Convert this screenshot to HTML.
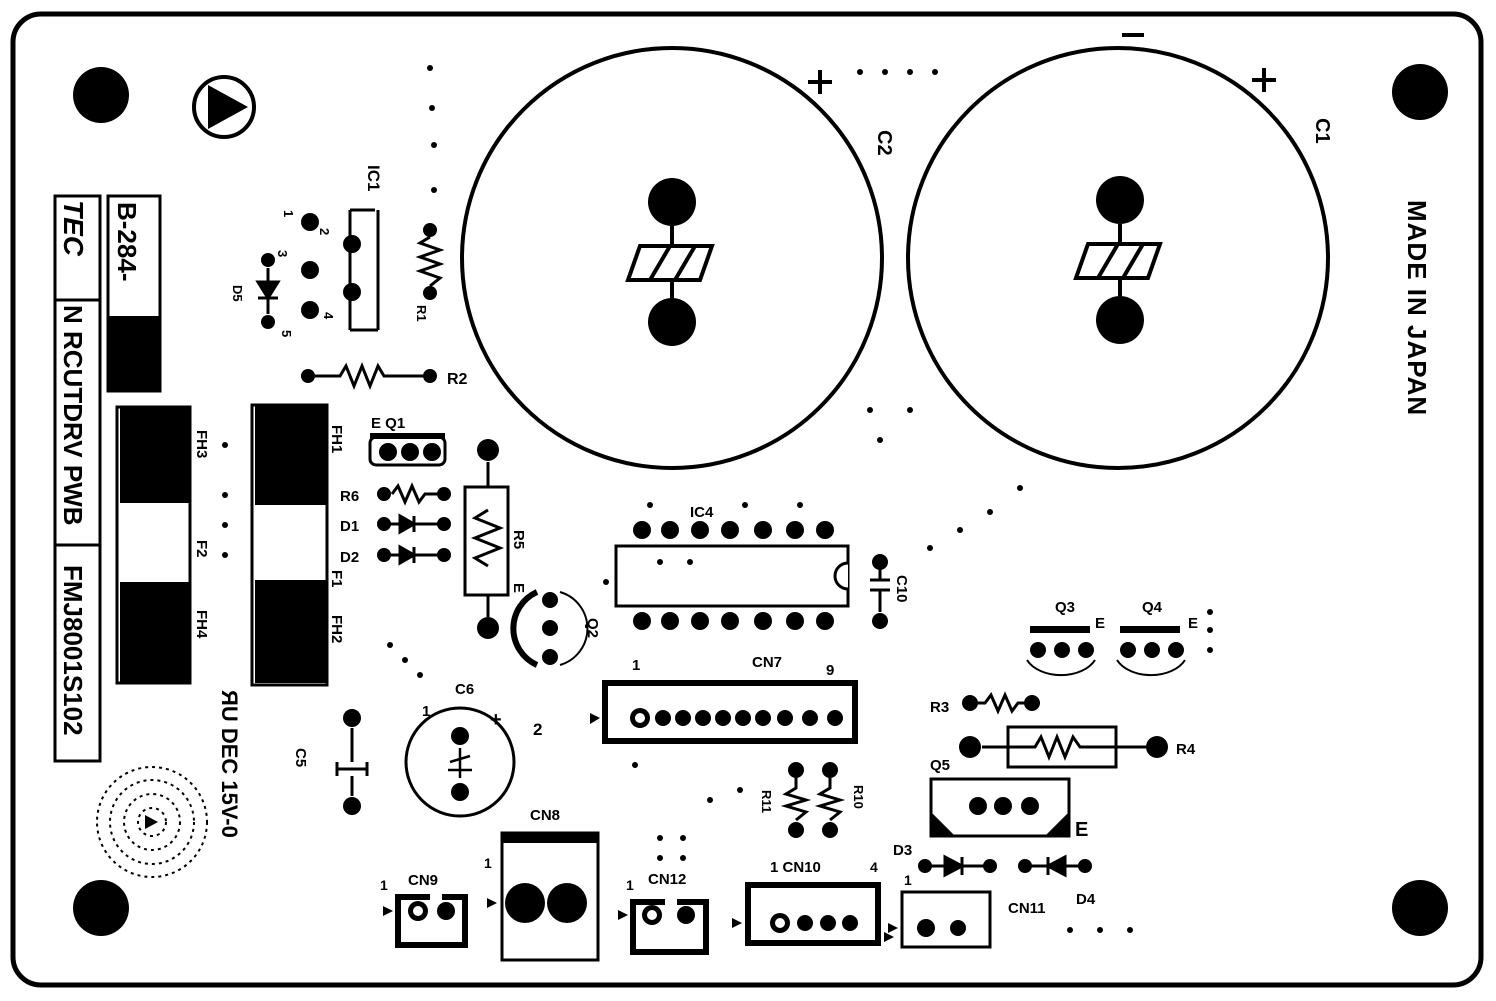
<!DOCTYPE html>
<html><head><meta charset="utf-8"><style>
html,body{margin:0;padding:0;background:#fff}
svg{display:block}
text{font-family:"Liberation Sans",sans-serif;font-weight:bold;fill:#000}
</style></head><body>
<svg width="1496" height="1001" viewBox="0 0 1496 1001" xmlns="http://www.w3.org/2000/svg">
<rect x="13" y="14" width="1468" height="971" rx="28" fill="#fff" stroke="#000" stroke-width="5"/>
<!-- corner holes -->
<g fill="#000">
<circle cx="101" cy="95" r="28"/><circle cx="1420" cy="92" r="28"/>
<circle cx="101" cy="908" r="28"/><circle cx="1420" cy="908" r="28"/>
</g>
<!-- triangle logo -->
<circle cx="224" cy="107" r="30" fill="none" stroke="#000" stroke-width="4"/>
<path d="M208 85 L248 107 L208 129 Z" fill="#000"/>
<!-- big caps -->
<circle cx="672" cy="258" r="210" fill="none" stroke="#000" stroke-width="4"/>
<circle cx="1118" cy="258" r="210" fill="none" stroke="#000" stroke-width="4"/>
<g fill="#000">
<circle cx="672" cy="202" r="24"/><circle cx="672" cy="322" r="24"/>
<circle cx="1120" cy="200" r="24"/><circle cx="1120" cy="320" r="24"/>
</g>
<g stroke="#000" stroke-width="4" fill="none">
<path d="M672 226V246M672 280V298M640 246H712L700 280H628Z M650 280L670 246 M675 280L695 246"/>
<path d="M1120 224V244M1120 278V296M1088 244H1160L1148 278H1076Z M1098 278L1118 244 M1123 278L1143 244"/>
<path d="M808 82H832M820 70V94 M1252 80H1276M1264 68V92 M1122 35H1144"/>
</g>
<text transform="translate(878,130) rotate(90)" font-size="20">C2</text>
<text transform="translate(1316,118) rotate(90)" font-size="20">C1</text>
<text transform="translate(1408,200) rotate(90)" font-size="26" letter-spacing="1">MADE IN JAPAN</text>
<!-- dotted traces -->
<g fill="#000">
<circle cx="430" cy="68" r="3"/><circle cx="432" cy="108" r="3"/><circle cx="434" cy="145" r="3"/><circle cx="434" cy="190" r="3"/>
<circle cx="860" cy="72" r="3"/><circle cx="885" cy="72" r="3"/><circle cx="910" cy="72" r="3"/><circle cx="935" cy="72" r="3"/>
<circle cx="870" cy="410" r="3"/><circle cx="910" cy="410" r="3"/><circle cx="880" cy="440" r="3"/><circle cx="1020" cy="488" r="3"/>
<circle cx="990" cy="512" r="3"/><circle cx="960" cy="530" r="3"/><circle cx="930" cy="548" r="3"/>
<circle cx="1210" cy="612" r="3"/><circle cx="1210" cy="630" r="3"/><circle cx="1210" cy="650" r="3"/>
<circle cx="390" cy="645" r="3"/><circle cx="405" cy="660" r="3"/><circle cx="420" cy="675" r="3"/>
<circle cx="1070" cy="930" r="3"/><circle cx="1100" cy="930" r="3"/><circle cx="1130" cy="930" r="3"/>
<circle cx="710" cy="800" r="3"/><circle cx="740" cy="790" r="3"/><circle cx="635" cy="765" r="3"/>
</g>
<!-- left label block -->
<rect x="55" y="196" width="45" height="565" fill="none" stroke="#000" stroke-width="3"/>
<text transform="translate(64,200) rotate(90)" font-size="28" font-style="italic">TEC</text>
<text transform="translate(64,305) rotate(90)" font-size="26">N RCUTDRV PWB</text>
<text transform="translate(64,565) rotate(90)" font-size="26">FMJ8001S102</text>
<path d="M55 300H100 M55 545H100" stroke="#000" stroke-width="3"/>
<rect x="108" y="196" width="52" height="195" fill="none" stroke="#000" stroke-width="3"/>
<text transform="translate(118,202) rotate(90)" font-size="26">B-284-</text>
<rect x="108" y="316" width="52" height="75" fill="#000"/>
<!-- fuse holders -->
<rect x="117" y="407" width="73" height="276" fill="none" stroke="#000" stroke-width="3"/>
<rect x="120" y="407" width="70" height="96" fill="#000"/><rect x="120" y="582" width="70" height="100" fill="#000"/>
<rect x="252" y="405" width="75" height="280" fill="none" stroke="#000" stroke-width="3"/>
<rect x="255" y="405" width="72" height="100" fill="#000"/><rect x="255" y="580" width="72" height="103" fill="#000"/>
<g font-size="15">
<text transform="translate(197,430) rotate(90)">FH3</text>
<text transform="translate(197,540) rotate(90)">F2</text>
<text transform="translate(197,610) rotate(90)">FH4</text>
<text transform="translate(332,425) rotate(90)">FH1</text>
<text transform="translate(332,570) rotate(90)">F1</text>
<text transform="translate(332,615) rotate(90)">FH2</text>
</g>
<g fill="#000"><circle cx="225" cy="445" r="3"/><circle cx="225" cy="495" r="3"/><circle cx="225" cy="525" r="3"/><circle cx="225" cy="555" r="3"/></g>
<text transform="translate(222,690) rotate(90)" font-size="22">ЯU DEC 15V-0</text>
<!-- dotted circle logo -->
<g fill="none" stroke="#000" stroke-width="2" stroke-dasharray="3 4">
<circle cx="152" cy="822" r="55"/><circle cx="152" cy="822" r="42"/><circle cx="152" cy="822" r="28"/><circle cx="152" cy="822" r="14"/>
</g>
<path d="M145 815L158 822L145 829Z" fill="#000"/>
<!-- IC1 -->
<text transform="translate(368,165) rotate(90)" font-size="17">IC1</text>
<path d="M350 210H375 M350 210V330 M350 330H378 M378 210V330" stroke="#000" stroke-width="3" fill="none"/>
<g fill="#000">
<circle cx="310" cy="222" r="9"/><circle cx="352" cy="244" r="9"/><circle cx="310" cy="270" r="9"/><circle cx="352" cy="292" r="9"/><circle cx="310" cy="310" r="9"/>
<circle cx="268" cy="260" r="7"/><circle cx="268" cy="322" r="7"/>
<circle cx="430" cy="230" r="7"/><circle cx="430" cy="293" r="7"/>
<circle cx="308" cy="376" r="7"/><circle cx="430" cy="376" r="7"/>
</g>
<g font-size="13"><text transform="translate(284,210) rotate(90)">1</text><text transform="translate(320,228) rotate(90)">2</text><text transform="translate(278,250) rotate(90)">3</text><text transform="translate(324,312) rotate(90)">4</text><text transform="translate(282,330) rotate(90)">5</text>
<text transform="translate(233,285) rotate(90)">D5</text><text transform="translate(417,305) rotate(90)">R1</text></g>
<path d="M268 268V314 M258 282H278L268 298Z M258 298H278" stroke="#000" stroke-width="3" fill="#000"/>
<path d="M430 237L420 243L440 250L420 257L440 264L420 271L440 278L430 286" stroke="#000" stroke-width="3" fill="none"/>
<path d="M315 376H340L346 366L354 386L362 366L370 386L378 366L384 376H423" stroke="#000" stroke-width="3" fill="none"/>
<text x="447" y="384" font-size="16">R2</text>
<!-- Q1 R6 D1 D2 R5 -->
<text x="371" y="428" font-size="15">E  Q1</text>
<rect x="370" y="437" width="75" height="28" rx="6" fill="none" stroke="#000" stroke-width="3"/>
<rect x="370" y="433" width="75" height="6" fill="#000"/>
<g fill="#000"><circle cx="388" cy="452" r="9"/><circle cx="410" cy="452" r="9"/><circle cx="432" cy="452" r="9"/>
<circle cx="384" cy="494" r="7"/><circle cx="444" cy="494" r="7"/><circle cx="384" cy="524" r="7"/><circle cx="444" cy="524" r="7"/><circle cx="384" cy="555" r="7"/><circle cx="444" cy="555" r="7"/>
<circle cx="488" cy="450" r="11"/><circle cx="488" cy="628" r="11"/></g>
<g font-size="15"><text x="340" y="501">R6</text><text x="340" y="531">D1</text><text x="340" y="562">D2</text></g>
<path d="M392 494L398 486L405 502L412 486L419 502L425 494H437" stroke="#000" stroke-width="3" fill="none"/>
<path d="M390 524H438M400 516V532L414 524Z M414 516V532 M390 555H438M400 547V563L414 555Z M414 547V563" stroke="#000" stroke-width="3" fill="#000"/>
<rect x="465" y="487" width="43" height="108" fill="none" stroke="#000" stroke-width="3"/>
<path d="M488 462V487 M488 595V617 M488 510L475 518L500 528L475 538L500 548L475 558L488 566" stroke="#000" stroke-width="3" fill="none"/>
<text transform="translate(514,530) rotate(90)" font-size="15">R5</text>
<text transform="translate(514,583) rotate(90)" font-size="15">E</text>
<!-- Q2 -->
<g fill="#000"><circle cx="550" cy="600" r="8"/><circle cx="550" cy="628" r="8"/><circle cx="550" cy="657" r="8"/></g>
<path d="M537 592A40 40 0 0 0 537 665" stroke="#000" stroke-width="6" fill="none"/>
<path d="M560 592A38 38 0 0 1 560 665" stroke="#000" stroke-width="2" fill="none"/>
<text transform="translate(588,618) rotate(90)" font-size="15">Q2</text>
<!-- IC4 -->
<text x="690" y="517" font-size="15">IC4</text>
<rect x="616" y="546" width="232" height="60" fill="none" stroke="#000" stroke-width="3"/>
<path d="M848 563A12 12 0 0 0 848 589" fill="#fff" stroke="#000" stroke-width="3"/>
<g fill="#000">
<circle cx="642" cy="530" r="9"/><circle cx="670" cy="530" r="9"/><circle cx="700" cy="530" r="9"/><circle cx="730" cy="530" r="9"/><circle cx="763" cy="530" r="9"/><circle cx="795" cy="530" r="9"/><circle cx="825" cy="530" r="9"/>
<circle cx="642" cy="621" r="9"/><circle cx="670" cy="621" r="9"/><circle cx="700" cy="621" r="9"/><circle cx="730" cy="621" r="9"/><circle cx="763" cy="621" r="9"/><circle cx="795" cy="621" r="9"/><circle cx="825" cy="621" r="9"/>
<circle cx="880" cy="562" r="8"/><circle cx="880" cy="621" r="8"/>
<circle cx="650" cy="505" r="3"/><circle cx="745" cy="505" r="3"/><circle cx="800" cy="505" r="3"/><circle cx="660" cy="562" r="3"/><circle cx="690" cy="562" r="3"/><circle cx="606" cy="582" r="3"/>
</g>
<path d="M880 570V580 M870 580H890 M870 590H890 M880 590V612" stroke="#000" stroke-width="3"/>
<text transform="translate(897,575) rotate(90)" font-size="15">C10</text>
<!-- CN7 -->
<text x="632" y="670" font-size="15">1</text><text x="752" y="667" font-size="15">CN7</text><text x="826" y="675" font-size="15">9</text>
<rect x="605" y="683" width="250" height="58" fill="none" stroke="#000" stroke-width="6"/>
<path d="M590 713L600 718L590 724Z" fill="#000"/>
<g fill="#000"><circle cx="640" cy="718" r="10"/><circle cx="663" cy="718" r="8"/><circle cx="683" cy="718" r="8"/><circle cx="703" cy="718" r="8"/><circle cx="723" cy="718" r="8"/><circle cx="743" cy="718" r="8"/><circle cx="763" cy="718" r="8"/><circle cx="785" cy="718" r="8"/><circle cx="810" cy="718" r="8"/><circle cx="835" cy="718" r="8"/></g>
<circle cx="640" cy="718" r="5" fill="#fff"/>
<!-- C5 C6 -->
<g fill="#000"><circle cx="352" cy="718" r="9"/><circle cx="352" cy="806" r="9"/><circle cx="460" cy="736" r="9"/><circle cx="460" cy="792" r="9"/></g>
<path d="M352 728V762 M337 762V776 M367 762V776 M352 776V796 M337 769H367" stroke="#000" stroke-width="3" fill="none"/>
<text transform="translate(296,748) rotate(90)" font-size="15">C5</text>
<circle cx="460" cy="762" r="54" fill="none" stroke="#000" stroke-width="3"/>
<path d="M450 762L470 756 M448 770H472 M460 748V778" stroke="#000" stroke-width="2.5"/>
<text x="455" y="694" font-size="15">C6</text><text x="422" y="716" font-size="15">1</text><text x="490" y="726" font-size="20">+</text><text x="533" y="735" font-size="17">2</text>
<!-- R10 R11 -->
<g fill="#000"><circle cx="796" cy="770" r="8"/><circle cx="796" cy="830" r="8"/><circle cx="830" cy="770" r="8"/><circle cx="830" cy="830" r="8"/></g>
<path d="M796 778V788L786 794L806 800L786 806L806 812L796 820 M830 778V788L820 794L840 800L820 806L840 812L830 820" stroke="#000" stroke-width="3" fill="none"/>
<text transform="translate(762,790) rotate(90)" font-size="13">R11</text><text transform="translate(854,785) rotate(90)" font-size="13">R10</text>
<!-- Q3 Q4 -->
<text x="1055" y="612" font-size="15">Q3</text><text x="1095" y="628" font-size="15">E</text>
<text x="1142" y="612" font-size="15">Q4</text><text x="1188" y="628" font-size="15">E</text>
<rect x="1030" y="626" width="60" height="7" fill="#000"/><rect x="1120" y="626" width="60" height="7" fill="#000"/>
<path d="M1027 660A37 25 0 0 0 1095 660 M1117 660A37 25 0 0 0 1185 660" stroke="#000" stroke-width="2" fill="none"/>
<g fill="#000"><circle cx="1038" cy="650" r="8"/><circle cx="1062" cy="650" r="8"/><circle cx="1086" cy="650" r="8"/><circle cx="1128" cy="650" r="8"/><circle cx="1152" cy="650" r="8"/><circle cx="1176" cy="650" r="8"/></g>
<!-- R3 R4 Q5 -->
<text x="930" y="712" font-size="15">R3</text>
<g fill="#000"><circle cx="970" cy="703" r="8"/><circle cx="1032" cy="703" r="8"/><circle cx="970" cy="747" r="11"/><circle cx="1157" cy="747" r="11"/></g>
<path d="M978 703H985L991 695L998 711L1005 695L1012 711L1018 703H1024" stroke="#000" stroke-width="3" fill="none"/>
<rect x="1008" y="727" width="108" height="40" fill="none" stroke="#000" stroke-width="3"/>
<path d="M982 747H1035L1041 737L1049 757L1057 737L1065 757L1073 737L1080 747H1146" stroke="#000" stroke-width="3" fill="none"/>
<text x="1176" y="754" font-size="15">R4</text>
<text x="930" y="770" font-size="15">Q5</text>
<rect x="931" y="779" width="138" height="57" fill="none" stroke="#000" stroke-width="3"/>
<path d="M931 812L955 836H931Z M1069 812L1045 836H1069Z" fill="#000"/>
<g fill="#000"><circle cx="978" cy="806" r="9"/><circle cx="1003" cy="806" r="9"/><circle cx="1030" cy="806" r="9"/></g>
<text x="1075" y="836" font-size="20">E</text>
<!-- D3 D4 -->
<text x="893" y="855" font-size="15">D3</text>
<g fill="#000"><circle cx="925" cy="866" r="7"/><circle cx="990" cy="866" r="7"/><circle cx="1025" cy="866" r="7"/><circle cx="1085" cy="866" r="7"/></g>
<path d="M930 866H985 M945 857V875L962 866Z M962 857V875 M1030 866H1080 M1065 857V875L1048 866Z M1048 857V875" stroke="#000" stroke-width="3" fill="#000"/>
<text x="1008" y="913" font-size="15">CN11</text><text x="1076" y="904" font-size="15">D4</text>
<!-- CN11 -->
<text x="904" y="885" font-size="14">1</text>
<rect x="902" y="892" width="88" height="55" fill="none" stroke="#000" stroke-width="3"/>
<circle cx="926" cy="928" r="9" fill="#000"/><circle cx="958" cy="928" r="8" fill="#000"/>
<path d="M888 923L898 928L888 933Z" fill="#000"/>
<!-- CN10 -->
<text x="770" y="872" font-size="15">1 CN10</text><text x="870" y="872" font-size="14">4</text>
<path d="M748 885H878V943H748Z" fill="none" stroke="#000" stroke-width="6"/>
<path d="M732 918L742 923L732 928Z M884 932L894 937L884 942Z" fill="#000"/>
<g fill="#000"><circle cx="780" cy="923" r="10"/><circle cx="805" cy="923" r="8"/><circle cx="828" cy="923" r="8"/><circle cx="850" cy="923" r="8"/></g>
<circle cx="780" cy="923" r="5" fill="#fff"/>
<!-- CN12 -->
<text x="626" y="890" font-size="14">1</text><text x="648" y="884" font-size="15">CN12</text>
<g fill="#000"><circle cx="660" cy="838" r="3"/><circle cx="683" cy="838" r="3"/><circle cx="660" cy="858" r="3"/><circle cx="683" cy="858" r="3"/></g>
<path d="M633 902H706V952H633Z" fill="none" stroke="#000" stroke-width="6"/>
<rect x="665" y="898" width="12" height="10" fill="#fff"/>
<path d="M618 910L628 915L618 920Z" fill="#000"/>
<circle cx="652" cy="915" r="10" fill="#000"/><circle cx="686" cy="915" r="9" fill="#000"/><circle cx="652" cy="915" r="5" fill="#fff"/>
<!-- CN8 -->
<text x="530" y="820" font-size="15">CN8</text><text x="484" y="868" font-size="14">1</text>
<rect x="502" y="833" width="96" height="127" fill="none" stroke="#000" stroke-width="3"/>
<rect x="502" y="833" width="96" height="10" fill="#000"/>
<circle cx="525" cy="903" r="20" fill="#000"/><circle cx="567" cy="903" r="20" fill="#000"/>
<path d="M487 898L497 903L487 908Z" fill="#000"/>
<!-- CN9 -->
<text x="380" y="890" font-size="14">1</text><text x="408" y="885" font-size="15">CN9</text>
<path d="M398 897H465V945H398Z" fill="none" stroke="#000" stroke-width="6"/>
<rect x="430" y="893" width="12" height="10" fill="#fff"/>
<path d="M383 906L393 911L383 916Z" fill="#000"/>
<circle cx="418" cy="911" r="10" fill="#000"/><circle cx="446" cy="911" r="9" fill="#000"/><circle cx="418" cy="911" r="5" fill="#fff"/>
</svg>
</body></html>
